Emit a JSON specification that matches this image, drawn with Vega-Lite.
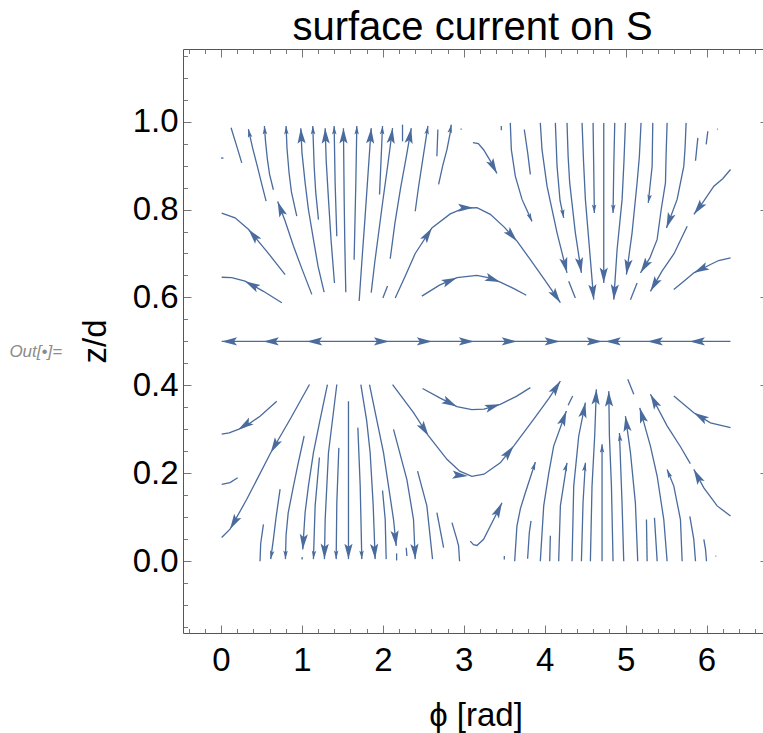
{
"$schema": "https://vega.github.io/schema/vega-lite/v6.json",
"width": 585, "height": 584,
"autosize": {"type": "none"},
"padding": {"left": 183, "top": 49, "right": 0, "bottom": 100},
"background": "white",
"title": {"text": "surface current on S", "font": "Liberation Sans", "fontSize": 40, "fontWeight": "normal", "color": "black", "offset": 1, "anchor": "middle", "dx": -3},
"config": {
  "view": {"stroke": null},
  "axis": {"grid": false, "domainColor": "#555555", "tickColor": "#777777", "domainWidth": 1, "tickWidth": 1,
    "labelFont": "Liberation Sans", "labelFontSize": 33, "labelColor": "black", "labelFlush": false, "labelOverlap": false,
    "titleFont": "Liberation Sans", "titleFontSize": 33, "titleFontWeight": "normal", "titleColor": "black"}
},
"resolve": {"axis": {"x": "independent", "y": "independent"}},
"datasets": {
"lines": [
{"id":1,"i":0,"phi":0,"z":0.917},{"id":1,"i":1,"phi":0.03,"z":0.917},
{"id":2,"i":0,"phi":0.256,"z":0.906},{"id":2,"i":1,"phi":0.194,"z":0.944},{"id":2,"i":2,"phi":0.124,"z":0.986},
{"id":3,"i":0,"phi":0.557,"z":0.819},{"id":3,"i":1,"phi":0.5,"z":0.86},{"id":3,"i":2,"phi":0.449,"z":0.898},{"id":3,"i":3,"phi":0.39,"z":0.94},{"id":3,"i":4,"phi":0.338,"z":0.983},
{"id":4,"i":0,"phi":1.122,"z":0.607},{"id":4,"i":1,"phi":1.0,"z":0.665},{"id":4,"i":2,"phi":0.895,"z":0.717},{"id":4,"i":3,"phi":0.79,"z":0.775},{"id":4,"i":4,"phi":0.7,"z":0.818},
{"id":5,"i":0,"phi":0.647,"z":0.845},{"id":5,"i":1,"phi":0.6,"z":0.88},{"id":5,"i":2,"phi":0.573,"z":0.914},{"id":5,"i":3,"phi":0.55,"z":0.955},{"id":5,"i":4,"phi":0.536,"z":0.99},
{"id":6,"i":0,"phi":0.936,"z":0.785},{"id":6,"i":1,"phi":0.87,"z":0.84},{"id":6,"i":2,"phi":0.841,"z":0.883},{"id":6,"i":3,"phi":0.815,"z":0.94},{"id":6,"i":4,"phi":0.804,"z":0.99},
{"id":7,"i":0,"phi":1.274,"z":0.612},{"id":7,"i":1,"phi":1.2,"z":0.67},{"id":7,"i":2,"phi":1.142,"z":0.732},{"id":7,"i":3,"phi":1.08,"z":0.8},{"id":7,"i":4,"phi":1.039,"z":0.861},{"id":7,"i":5,"phi":1.0,"z":0.93},{"id":7,"i":6,"phi":0.986,"z":0.985},
{"id":8,"i":0,"phi":1.204,"z":0.777},{"id":8,"i":1,"phi":1.17,"z":0.84},{"id":8,"i":2,"phi":1.151,"z":0.898},{"id":8,"i":3,"phi":1.134,"z":0.99},
{"id":9,"i":0,"phi":1.402,"z":0.633},{"id":9,"i":1,"phi":1.36,"z":0.73},{"id":9,"i":2,"phi":1.328,"z":0.823},{"id":9,"i":3,"phi":1.3,"z":0.91},{"id":9,"i":4,"phi":1.287,"z":0.985},
{"id":10,"i":0,"phi":1.431,"z":0.739},{"id":10,"i":1,"phi":1.41,"z":0.861},{"id":10,"i":2,"phi":1.398,"z":0.99},
{"id":11,"i":0,"phi":1.542,"z":0.612},{"id":11,"i":1,"phi":1.53,"z":0.72},{"id":11,"i":2,"phi":1.522,"z":0.823},{"id":11,"i":3,"phi":1.513,"z":0.985},
{"id":12,"i":0,"phi":1.645,"z":0.686},{"id":12,"i":1,"phi":1.666,"z":0.861},{"id":12,"i":2,"phi":1.678,"z":0.99},
{"id":13,"i":0,"phi":1.707,"z":0.592},{"id":13,"i":1,"phi":1.74,"z":0.68},{"id":13,"i":2,"phi":1.781,"z":0.785},{"id":13,"i":3,"phi":1.82,"z":0.89},{"id":13,"i":4,"phi":1.856,"z":0.985},
{"id":14,"i":0,"phi":1.959,"z":0.834},{"id":14,"i":1,"phi":1.996,"z":0.99},
{"id":15,"i":0,"phi":1.856,"z":0.611},{"id":15,"i":1,"phi":1.9,"z":0.68},{"id":15,"i":2,"phi":1.95,"z":0.75},{"id":15,"i":3,"phi":2.0,"z":0.82},{"id":15,"i":4,"phi":2.06,"z":0.9},{"id":15,"i":5,"phi":2.12,"z":0.985},
{"id":16,"i":0,"phi":2.0,"z":0.599},{"id":16,"i":1,"phi":2.058,"z":0.626},
{"id":17,"i":0,"phi":2.243,"z":0.955},{"id":17,"i":1,"phi":2.243,"z":0.993},
{"id":18,"i":0,"phi":2.091,"z":0.688},{"id":18,"i":1,"phi":2.15,"z":0.77},{"id":18,"i":2,"phi":2.22,"z":0.85},{"id":18,"i":3,"phi":2.29,"z":0.92},{"id":18,"i":4,"phi":2.351,"z":0.985},
{"id":19,"i":0,"phi":2.4,"z":0.796},{"id":19,"i":1,"phi":2.44,"z":0.85},{"id":19,"i":2,"phi":2.48,"z":0.898},{"id":19,"i":3,"phi":2.557,"z":0.99},
{"id":20,"i":0,"phi":2.668,"z":0.921},{"id":20,"i":1,"phi":2.68,"z":0.982},
{"id":21,"i":0,"phi":2.689,"z":0.857},{"id":21,"i":1,"phi":2.74,"z":0.9},{"id":21,"i":2,"phi":2.792,"z":0.936},{"id":21,"i":3,"phi":2.833,"z":0.975},{"id":21,"i":4,"phi":2.845,"z":0.993},
{"id":22,"i":0,"phi":0.792,"z":0.652},{"id":22,"i":1,"phi":0.565,"z":0.705},{"id":22,"i":2,"phi":0.338,"z":0.755},{"id":22,"i":3,"phi":0.173,"z":0.781},{"id":22,"i":4,"phi":0.008,"z":0.792},
{"id":23,"i":0,"phi":0.751,"z":0.588},{"id":23,"i":1,"phi":0.524,"z":0.614},{"id":23,"i":2,"phi":0.297,"z":0.637},{"id":23,"i":3,"phi":0.132,"z":0.645},{"id":23,"i":4,"phi":0.008,"z":0.646},
{"id":24,"i":0,"phi":2.153,"z":0.599},{"id":24,"i":1,"phi":2.28,"z":0.65},{"id":24,"i":2,"phi":2.4,"z":0.7},{"id":24,"i":3,"phi":2.606,"z":0.758},{"id":24,"i":4,"phi":2.833,"z":0.79},{"id":24,"i":5,"phi":3.0,"z":0.803},{"id":24,"i":6,"phi":3.163,"z":0.804},{"id":24,"i":7,"phi":3.328,"z":0.789},{"id":24,"i":8,"phi":3.5,"z":0.76},{"id":24,"i":9,"phi":3.658,"z":0.728},{"id":24,"i":10,"phi":3.823,"z":0.686},{"id":24,"i":11,"phi":4.0,"z":0.64},{"id":24,"i":12,"phi":4.194,"z":0.588},
{"id":25,"i":0,"phi":2.482,"z":0.603},{"id":25,"i":1,"phi":2.7,"z":0.628},{"id":25,"i":2,"phi":2.915,"z":0.645},{"id":25,"i":3,"phi":3.163,"z":0.65},{"id":25,"i":4,"phi":3.3,"z":0.645},{"id":25,"i":5,"phi":3.451,"z":0.635},{"id":25,"i":6,"phi":3.62,"z":0.62},{"id":25,"i":7,"phi":3.773,"z":0.605},
{"id":26,"i":0,"phi":2.96,"z":0.983},{"id":26,"i":1,"phi":2.975,"z":0.983},
{"id":27,"i":0,"phi":3.464,"z":0.99},{"id":27,"i":1,"phi":3.464,"z":0.98},
{"id":28,"i":0,"phi":3.113,"z":0.952},{"id":28,"i":1,"phi":3.18,"z":0.95},{"id":28,"i":2,"phi":3.245,"z":0.936},{"id":28,"i":3,"phi":3.33,"z":0.91},{"id":28,"i":4,"phi":3.41,"z":0.882},
{"id":29,"i":0,"phi":3.575,"z":0.997},{"id":29,"i":1,"phi":3.588,"z":0.936},{"id":29,"i":2,"phi":3.637,"z":0.876},{"id":29,"i":3,"phi":3.72,"z":0.823},{"id":29,"i":4,"phi":3.843,"z":0.773},
{"id":30,"i":0,"phi":3.748,"z":0.982},{"id":30,"i":1,"phi":3.79,"z":0.929},{"id":30,"i":2,"phi":3.823,"z":0.88},
{"id":31,"i":0,"phi":3.946,"z":0.997},{"id":31,"i":1,"phi":3.967,"z":0.936},{"id":31,"i":2,"phi":4.029,"z":0.853},{"id":31,"i":3,"phi":4.153,"z":0.747},{"id":31,"i":4,"phi":4.276,"z":0.656},
{"id":32,"i":0,"phi":4.297,"z":0.637},{"id":32,"i":1,"phi":4.379,"z":0.599},
{"id":33,"i":0,"phi":4.132,"z":0.997},{"id":33,"i":1,"phi":4.153,"z":0.898},{"id":33,"i":2,"phi":4.19,"z":0.82},{"id":33,"i":3,"phi":4.235,"z":0.781},
{"id":34,"i":0,"phi":4.276,"z":0.997},{"id":34,"i":1,"phi":4.29,"z":0.92},{"id":34,"i":2,"phi":4.309,"z":0.861},{"id":34,"i":3,"phi":4.379,"z":0.747},{"id":34,"i":4,"phi":4.454,"z":0.656},
{"id":35,"i":0,"phi":4.462,"z":0.997},{"id":35,"i":1,"phi":4.48,"z":0.91},{"id":35,"i":2,"phi":4.503,"z":0.823},{"id":35,"i":3,"phi":4.565,"z":0.686},{"id":35,"i":4,"phi":4.606,"z":0.595},
{"id":36,"i":0,"phi":4.598,"z":0.997},{"id":36,"i":1,"phi":4.606,"z":0.898},{"id":36,"i":2,"phi":4.614,"z":0.792},
{"id":37,"i":0,"phi":4.73,"z":0.997},{"id":37,"i":1,"phi":4.73,"z":0.633},
{"id":38,"i":0,"phi":4.866,"z":0.997},{"id":38,"i":1,"phi":4.854,"z":0.898},{"id":38,"i":2,"phi":4.845,"z":0.792},
{"id":39,"i":0,"phi":4.998,"z":0.997},{"id":39,"i":1,"phi":4.98,"z":0.91},{"id":39,"i":2,"phi":4.957,"z":0.823},{"id":39,"i":3,"phi":4.895,"z":0.709},{"id":39,"i":4,"phi":4.854,"z":0.595},
{"id":40,"i":0,"phi":5.191,"z":0.997},{"id":40,"i":1,"phi":5.17,"z":0.92},{"id":40,"i":2,"phi":5.142,"z":0.861},{"id":40,"i":3,"phi":5.08,"z":0.747},{"id":40,"i":4,"phi":5.01,"z":0.652},
{"id":41,"i":0,"phi":5.336,"z":0.997},{"id":41,"i":1,"phi":5.328,"z":0.898},{"id":41,"i":2,"phi":5.3,"z":0.85},{"id":41,"i":3,"phi":5.28,"z":0.815},
{"id":42,"i":0,"phi":5.513,"z":0.997},{"id":42,"i":1,"phi":5.5,"z":0.92},{"id":42,"i":2,"phi":5.493,"z":0.861},{"id":42,"i":3,"phi":5.44,"z":0.8},{"id":42,"i":4,"phi":5.39,"z":0.732},{"id":42,"i":5,"phi":5.3,"z":0.69},{"id":42,"i":6,"phi":5.184,"z":0.656},
{"id":43,"i":0,"phi":5.142,"z":0.633},{"id":43,"i":1,"phi":5.06,"z":0.595},
{"id":44,"i":0,"phi":5.748,"z":0.997},{"id":44,"i":1,"phi":5.735,"z":0.94},{"id":44,"i":2,"phi":5.719,"z":0.898},{"id":44,"i":3,"phi":5.637,"z":0.823},{"id":44,"i":4,"phi":5.505,"z":0.758},
{"id":45,"i":0,"phi":5.893,"z":0.963},{"id":45,"i":1,"phi":5.864,"z":0.911},
{"id":46,"i":0,"phi":6.016,"z":0.978},{"id":46,"i":1,"phi":5.996,"z":0.948},
{"id":47,"i":0,"phi":6.132,"z":0.983},{"id":47,"i":1,"phi":6.142,"z":0.983},
{"id":48,"i":0,"phi":6.297,"z":0.891},{"id":48,"i":1,"phi":6.2,"z":0.87},{"id":48,"i":2,"phi":6.091,"z":0.853},{"id":48,"i":3,"phi":5.97,"z":0.82},{"id":48,"i":4,"phi":5.844,"z":0.789},
{"id":49,"i":0,"phi":5.761,"z":0.762},{"id":49,"i":1,"phi":5.6,"z":0.7},{"id":49,"i":2,"phi":5.45,"z":0.66},{"id":49,"i":3,"phi":5.307,"z":0.614},
{"id":50,"i":0,"phi":6.297,"z":0.69},{"id":50,"i":1,"phi":6.15,"z":0.684},{"id":50,"i":2,"phi":6.049,"z":0.675},{"id":50,"i":3,"phi":5.844,"z":0.656},{"id":50,"i":4,"phi":5.72,"z":0.637},{"id":50,"i":5,"phi":5.596,"z":0.618},
{"id":51,"i":0,"phi":0.689,"z":0.364},{"id":51,"i":1,"phi":0.482,"z":0.33},{"id":51,"i":2,"phi":0.3,"z":0.307},{"id":51,"i":3,"phi":0.214,"z":0.3},{"id":51,"i":4,"phi":0.1,"z":0.292},{"id":51,"i":5,"phi":0.008,"z":0.289},
{"id":52,"i":0,"phi":0.206,"z":0.19},{"id":52,"i":1,"phi":0.111,"z":0.179},{"id":52,"i":2,"phi":0.008,"z":0.175},
{"id":53,"i":0,"phi":1.093,"z":0.402},{"id":53,"i":1,"phi":0.854,"z":0.323},{"id":53,"i":2,"phi":0.614,"z":0.247},{"id":53,"i":3,"phi":0.318,"z":0.141},{"id":53,"i":4,"phi":0.111,"z":0.073},{"id":53,"i":5,"phi":0.008,"z":0.054},
{"id":54,"i":0,"phi":0.524,"z":0.084},{"id":54,"i":1,"phi":0.49,"z":0.04},{"id":54,"i":2,"phi":0.482,"z":0.0},
{"id":55,"i":0,"phi":0.73,"z":0.164},{"id":55,"i":1,"phi":0.68,"z":0.1},{"id":55,"i":2,"phi":0.647,"z":0.05},{"id":55,"i":3,"phi":0.614,"z":0.005},
{"id":56,"i":0,"phi":1.027,"z":0.285},{"id":56,"i":1,"phi":0.95,"z":0.22},{"id":56,"i":2,"phi":0.895,"z":0.171},{"id":56,"i":3,"phi":0.83,"z":0.11},{"id":56,"i":4,"phi":0.804,"z":0.06},{"id":56,"i":5,"phi":0.796,"z":0.005},
{"id":57,"i":0,"phi":1.315,"z":0.402},{"id":57,"i":1,"phi":1.225,"z":0.323},{"id":57,"i":2,"phi":1.142,"z":0.247},{"id":57,"i":3,"phi":1.08,"z":0.171},{"id":57,"i":4,"phi":1.039,"z":0.111},{"id":57,"i":5,"phi":1.01,"z":0.027},
{"id":58,"i":0,"phi":1.003,"z":0.01},{"id":58,"i":1,"phi":1.002,"z":0.004},
{"id":59,"i":0,"phi":1.216,"z":0.236},{"id":59,"i":1,"phi":1.163,"z":0.126},{"id":59,"i":2,"phi":1.142,"z":0.005},
{"id":60,"i":0,"phi":1.431,"z":0.402},{"id":60,"i":1,"phi":1.328,"z":0.247},{"id":60,"i":2,"phi":1.287,"z":0.095},{"id":60,"i":3,"phi":1.278,"z":0.005},
{"id":61,"i":0,"phi":1.456,"z":0.258},{"id":61,"i":1,"phi":1.431,"z":0.133},{"id":61,"i":2,"phi":1.423,"z":0.005},
{"id":62,"i":0,"phi":1.575,"z":0.364},{"id":62,"i":1,"phi":1.575,"z":0.005},
{"id":63,"i":0,"phi":1.691,"z":0.304},{"id":63,"i":1,"phi":1.72,"z":0.171},{"id":63,"i":2,"phi":1.74,"z":0.005},
{"id":64,"i":0,"phi":1.728,"z":0.402},{"id":64,"i":1,"phi":1.8,"z":0.32},{"id":64,"i":2,"phi":1.843,"z":0.247},{"id":64,"i":3,"phi":1.88,"z":0.13},{"id":64,"i":4,"phi":1.905,"z":0.005},
{"id":65,"i":0,"phi":1.835,"z":0.402},{"id":65,"i":1,"phi":2.008,"z":0.247},{"id":65,"i":2,"phi":2.132,"z":0.095},{"id":65,"i":3,"phi":2.165,"z":0.035},
{"id":66,"i":0,"phi":2.17,"z":0.018},{"id":66,"i":1,"phi":2.17,"z":0.002},
{"id":67,"i":0,"phi":1.996,"z":0.161},{"id":67,"i":1,"phi":2.029,"z":0.095},{"id":67,"i":2,"phi":2.041,"z":0.005},
{"id":68,"i":0,"phi":2.132,"z":0.3},{"id":68,"i":1,"phi":2.297,"z":0.186},{"id":68,"i":2,"phi":2.379,"z":0.095},{"id":68,"i":3,"phi":2.4,"z":0.005},
{"id":69,"i":0,"phi":2.289,"z":0.031},{"id":69,"i":1,"phi":2.297,"z":0.012},
{"id":70,"i":0,"phi":2.429,"z":0.205},{"id":70,"i":1,"phi":2.544,"z":0.126},{"id":70,"i":2,"phi":2.614,"z":0.005},
{"id":71,"i":0,"phi":2.668,"z":0.111},{"id":71,"i":1,"phi":2.751,"z":0.031},
{"id":72,"i":0,"phi":2.854,"z":0.088},{"id":72,"i":1,"phi":2.915,"z":0.05},{"id":72,"i":2,"phi":2.936,"z":0.035},{"id":72,"i":3,"phi":2.948,"z":0.0},
{"id":73,"i":0,"phi":2.12,"z":0.402},{"id":73,"i":1,"phi":2.379,"z":0.338},{"id":73,"i":2,"phi":2.565,"z":0.285},{"id":73,"i":3,"phi":2.792,"z":0.232},{"id":73,"i":4,"phi":2.95,"z":0.205},{"id":73,"i":5,"phi":3.1,"z":0.193},{"id":73,"i":6,"phi":3.25,"z":0.198},{"id":73,"i":7,"phi":3.451,"z":0.224},{"id":73,"i":8,"phi":3.616,"z":0.262},{"id":73,"i":9,"phi":3.863,"z":0.323},{"id":73,"i":10,"phi":4.05,"z":0.37},{"id":73,"i":11,"phi":4.194,"z":0.41},
{"id":74,"i":0,"phi":2.491,"z":0.393},{"id":74,"i":1,"phi":2.709,"z":0.371},{"id":74,"i":2,"phi":2.915,"z":0.352},{"id":74,"i":3,"phi":3.1,"z":0.345},{"id":74,"i":4,"phi":3.25,"z":0.346},{"id":74,"i":5,"phi":3.451,"z":0.357},{"id":74,"i":6,"phi":3.65,"z":0.375},{"id":74,"i":7,"phi":3.823,"z":0.395},
{"id":75,"i":0,"phi":3.08,"z":0.046},{"id":75,"i":1,"phi":3.12,"z":0.038},{"id":75,"i":2,"phi":3.163,"z":0.036},{"id":75,"i":3,"phi":3.245,"z":0.05},{"id":75,"i":4,"phi":3.369,"z":0.095},{"id":75,"i":5,"phi":3.472,"z":0.133},
{"id":76,"i":0,"phi":3.501,"z":0.012},{"id":76,"i":1,"phi":3.501,"z":0.004},
{"id":77,"i":0,"phi":3.629,"z":0.0},{"id":77,"i":1,"phi":3.657,"z":0.08},{"id":77,"i":2,"phi":3.7,"z":0.12},{"id":77,"i":3,"phi":3.761,"z":0.156},{"id":77,"i":4,"phi":3.885,"z":0.226},
{"id":78,"i":0,"phi":3.789,"z":0.006},{"id":78,"i":1,"phi":3.81,"z":0.065},{"id":78,"i":2,"phi":3.831,"z":0.092},
{"id":79,"i":0,"phi":3.946,"z":0.0},{"id":79,"i":1,"phi":3.988,"z":0.126},{"id":79,"i":2,"phi":4.05,"z":0.2},{"id":79,"i":3,"phi":4.111,"z":0.262},{"id":79,"i":4,"phi":4.268,"z":0.342},
{"id":80,"i":0,"phi":4.29,"z":0.355},{"id":80,"i":1,"phi":4.346,"z":0.376},
{"id":81,"i":0,"phi":4.062,"z":0.0},{"id":81,"i":1,"phi":4.07,"z":0.058},
{"id":82,"i":0,"phi":4.173,"z":0.0},{"id":82,"i":1,"phi":4.194,"z":0.126},{"id":82,"i":2,"phi":4.276,"z":0.224},
{"id":83,"i":0,"phi":4.338,"z":0.0},{"id":83,"i":1,"phi":4.359,"z":0.171},{"id":83,"i":2,"phi":4.421,"z":0.285},{"id":83,"i":3,"phi":4.503,"z":0.361},
{"id":84,"i":0,"phi":4.454,"z":0.0},{"id":84,"i":1,"phi":4.474,"z":0.133},{"id":84,"i":2,"phi":4.503,"z":0.224},
{"id":85,"i":0,"phi":4.565,"z":0.0},{"id":85,"i":1,"phi":4.585,"z":0.171},{"id":85,"i":2,"phi":4.618,"z":0.285},{"id":85,"i":3,"phi":4.639,"z":0.391},
{"id":86,"i":0,"phi":4.709,"z":0.0},{"id":86,"i":1,"phi":4.709,"z":0.266},
{"id":87,"i":0,"phi":4.845,"z":0.0},{"id":87,"i":1,"phi":4.825,"z":0.171},{"id":87,"i":2,"phi":4.8,"z":0.285},{"id":87,"i":3,"phi":4.792,"z":0.387},
{"id":88,"i":0,"phi":4.977,"z":0.0},{"id":88,"i":1,"phi":4.956,"z":0.133},{"id":88,"i":2,"phi":4.924,"z":0.292},
{"id":89,"i":0,"phi":5.15,"z":0.0},{"id":89,"i":1,"phi":5.121,"z":0.133},{"id":89,"i":2,"phi":5.06,"z":0.247},{"id":89,"i":3,"phi":4.998,"z":0.33},
{"id":90,"i":0,"phi":5.266,"z":0.0},{"id":90,"i":1,"phi":5.258,"z":0.095},
{"id":91,"i":0,"phi":5.39,"z":0.0},{"id":91,"i":1,"phi":5.357,"z":0.099},
{"id":92,"i":0,"phi":5.513,"z":0.0},{"id":92,"i":1,"phi":5.472,"z":0.095},{"id":92,"i":2,"phi":5.39,"z":0.194},{"id":92,"i":3,"phi":5.307,"z":0.262},{"id":92,"i":4,"phi":5.175,"z":0.349},
{"id":93,"i":0,"phi":5.101,"z":0.38},{"id":93,"i":1,"phi":5.027,"z":0.414},
{"id":94,"i":0,"phi":5.699,"z":0.0},{"id":94,"i":1,"phi":5.678,"z":0.095},{"id":94,"i":2,"phi":5.596,"z":0.171},{"id":94,"i":3,"phi":5.513,"z":0.209},
{"id":95,"i":0,"phi":5.864,"z":0.0},{"id":95,"i":1,"phi":5.843,"z":0.05},{"id":95,"i":2,"phi":5.794,"z":0.102},
{"id":96,"i":0,"phi":6.0,"z":0.0},{"id":96,"i":1,"phi":5.988,"z":0.027},{"id":96,"i":2,"phi":5.967,"z":0.05},
{"id":97,"i":0,"phi":6.111,"z":0.012},{"id":97,"i":1,"phi":6.121,"z":0.012},
{"id":98,"i":0,"phi":6.297,"z":0.103},{"id":98,"i":1,"phi":6.132,"z":0.126},{"id":98,"i":2,"phi":5.967,"z":0.167},{"id":98,"i":3,"phi":5.843,"z":0.209},
{"id":99,"i":0,"phi":5.8,"z":0.222},{"id":99,"i":1,"phi":5.68,"z":0.26},{"id":99,"i":2,"phi":5.513,"z":0.308},{"id":99,"i":3,"phi":5.307,"z":0.38},
{"id":100,"i":0,"phi":6.297,"z":0.304},{"id":100,"i":1,"phi":6.049,"z":0.315},{"id":100,"i":2,"phi":5.843,"z":0.338},{"id":100,"i":3,"phi":5.596,"z":0.376}
],
"mid": [{"id":0,"i":0,"phi":0.008,"z":0.5},{"id":0,"i":1,"phi":6.296,"z":0.5}],
"arrows": [
{"phi":0.338,"z":0.983,"dir":-12,"big":0},{"phi":0.7,"z":0.818,"dir":-21,"big":1},{"phi":0.536,"z":0.99,"dir":-4,"big":0},{"phi":0.804,"z":0.99,"dir":-2,"big":0},
{"phi":0.986,"z":0.985,"dir":-3,"big":1},{"phi":1.134,"z":0.99,"dir":-2,"big":0},{"phi":1.287,"z":0.985,"dir":-2,"big":1},{"phi":1.398,"z":0.99,"dir":-1,"big":0},
{"phi":1.513,"z":0.985,"dir":0,"big":1},{"phi":1.678,"z":0.99,"dir":1,"big":0},{"phi":1.856,"z":0.985,"dir":4,"big":1},{"phi":1.996,"z":0.99,"dir":3,"big":0},
{"phi":2.12,"z":0.985,"dir":7,"big":1},{"phi":2.351,"z":0.985,"dir":10,"big":1},{"phi":2.557,"z":0.99,"dir":9,"big":0},{"phi":2.845,"z":0.993,"dir":10,"big":0},
{"phi":0.338,"z":0.755,"dir":-40,"big":1},{"phi":0.297,"z":0.637,"dir":-61,"big":1},{"phi":2.606,"z":0.758,"dir":33,"big":1},{"phi":3.12,"z":0.804,"dir":90,"big":1},
{"phi":3.658,"z":0.728,"dir":138,"big":1},{"phi":4.194,"z":0.588,"dir":146,"big":1},{"phi":2.915,"z":0.645,"dir":67,"big":1},{"phi":3.451,"z":0.635,"dir":110,"big":1},
{"phi":3.41,"z":0.882,"dir":152,"big":1},{"phi":3.843,"z":0.773,"dir":156,"big":0},{"phi":4.276,"z":0.656,"dir":166,"big":1},{"phi":4.235,"z":0.781,"dir":170,"big":0},
{"phi":4.454,"z":0.656,"dir":171,"big":1},{"phi":4.606,"z":0.595,"dir":175,"big":1},{"phi":4.614,"z":0.792,"dir":178,"big":0},{"phi":4.73,"z":0.633,"dir":180,"big":1},
{"phi":4.845,"z":0.792,"dir":182,"big":0},{"phi":4.854,"z":0.595,"dir":184,"big":1},{"phi":5.01,"z":0.652,"dir":188,"big":1},{"phi":5.28,"z":0.815,"dir":190,"big":0},
{"phi":5.184,"z":0.656,"dir":212,"big":1},{"phi":5.505,"z":0.758,"dir":200,"big":1},{"phi":5.844,"z":0.789,"dir":217,"big":1},{"phi":5.307,"z":0.614,"dir":210,"big":1},
{"phi":5.844,"z":0.656,"dir":243,"big":1},
{"phi":0.008,"z":0.5,"dir":270,"big":1},{"phi":0.524,"z":0.5,"dir":270,"big":1},{"phi":1.06,"z":0.5,"dir":270,"big":1},
{"phi":4.75,"z":0.5,"dir":270,"big":1},{"phi":5.27,"z":0.5,"dir":270,"big":1},{"phi":5.79,"z":0.5,"dir":270,"big":1},
{"phi":2.08,"z":0.5,"dir":90,"big":1},{"phi":2.61,"z":0.5,"dir":90,"big":1},{"phi":3.13,"z":0.5,"dir":90,"big":1},
{"phi":3.66,"z":0.5,"dir":90,"big":1},{"phi":4.19,"z":0.5,"dir":90,"big":1},{"phi":4.71,"z":0.5,"dir":90,"big":1},
{"phi":0.214,"z":0.3,"dir":237,"big":1},{"phi":0.614,"z":0.247,"dir":210,"big":1},{"phi":0.111,"z":0.073,"dir":210,"big":1},{"phi":0.614,"z":0.005,"dir":190,"big":0},
{"phi":0.796,"z":0.005,"dir":181,"big":0},{"phi":1.01,"z":0.027,"dir":184,"big":1},{"phi":1.142,"z":0.005,"dir":184,"big":0},{"phi":1.278,"z":0.005,"dir":181,"big":1},
{"phi":1.423,"z":0.005,"dir":180,"big":0},{"phi":1.575,"z":0.005,"dir":180,"big":1},{"phi":1.74,"z":0.005,"dir":178,"big":0},{"phi":1.905,"z":0.005,"dir":176,"big":1},
{"phi":2.165,"z":0.035,"dir":174,"big":1},{"phi":2.4,"z":0.005,"dir":177,"big":1},{"phi":2.565,"z":0.285,"dir":147,"big":1},{"phi":3.05,"z":0.194,"dir":95,"big":1},
{"phi":3.616,"z":0.262,"dir":38,"big":1},{"phi":4.194,"z":0.41,"dir":33,"big":1},{"phi":2.915,"z":0.352,"dir":117,"big":1},{"phi":3.451,"z":0.357,"dir":73,"big":1},
{"phi":3.472,"z":0.133,"dir":26,"big":1},{"phi":3.885,"z":0.226,"dir":18,"big":0},{"phi":4.268,"z":0.342,"dir":20,"big":1},{"phi":4.276,"z":0.224,"dir":15,"big":0},
{"phi":4.503,"z":0.361,"dir":11,"big":1},{"phi":4.503,"z":0.224,"dir":8,"big":0},{"phi":4.639,"z":0.391,"dir":3,"big":1},{"phi":4.709,"z":0.266,"dir":0,"big":0},
{"phi":4.792,"z":0.387,"dir":-1,"big":1},{"phi":4.924,"z":0.292,"dir":-5,"big":0},{"phi":4.998,"z":0.33,"dir":-8,"big":1},{"phi":5.175,"z":0.349,"dir":-16,"big":1},
{"phi":5.513,"z":0.209,"dir":-22,"big":0},{"phi":5.843,"z":0.209,"dir":-28,"big":1},{"phi":5.307,"z":0.38,"dir":-28,"big":1},{"phi":5.843,"z":0.338,"dir":-59,"big":1}
]
},
"layer": [
{
 "data": {"name": "lines"},
 "mark": {"type": "line", "color": "#4a6b9d", "strokeWidth": 1.3},
 "encoding": {
  "x": {"field": "phi", "type": "quantitative", "scale": {"domain": [-0.47, 6.76], "nice": false, "zero": false},
        "axis": {"orient": "bottom", "values": [0,1,2,3,4,5,6], "tickSize": -8, "labelPadding": 19, "title": "ϕ [rad]", "titlePadding": 22}},
  "y": {"field": "z", "type": "quantitative", "scale": {"domain": [-0.163, 1.165], "nice": false, "zero": false},
        "axis": {"orient": "left", "values": [0,0.2,0.4,0.6,0.8,1], "format": ".1f", "tickSize": -8, "labelPadding": 13, "title": "z/d", "titlePadding": 20}},
  "detail": {"field": "id", "type": "nominal"},
  "order": {"field": "i", "type": "quantitative"}
 }
},
{
 "data": {"name": "arrows"},
 "mark": {"type": "point", "shape": "M0,0L0.45,1.7L0,1.35L-0.45,1.7Z", "filled": true, "color": "#4a6b9d", "opacity": 1, "strokeWidth": 0},
 "encoding": {
  "x": {"field": "phi", "type": "quantitative", "scale": {"domain": [-0.47, 6.76], "nice": false, "zero": false},
        "axis": {"orient": "bottom", "values": [-0.4,-0.2,0.2,0.4,0.6,0.8,1.2,1.4,1.6,1.8,2.2,2.4,2.6,2.8,3.2,3.4,3.6,3.8,4.2,4.4,4.6,4.8,5.2,5.4,5.6,5.8,6.2,6.4,6.6], "tickSize": -4.5, "labels": false, "title": null, "domain": false}},
  "y": {"field": "z", "type": "quantitative", "scale": {"domain": [-0.163, 1.165], "nice": false, "zero": false},
        "axis": {"orient": "left", "values": [-0.15,-0.1,-0.05,0.05,0.1,0.15,0.25,0.3,0.35,0.45,0.5,0.55,0.65,0.7,0.75,0.85,0.9,0.95,1.05,1.1,1.15], "tickSize": -4.5, "labels": false, "title": null, "domain": false}},
  "angle": {"field": "dir", "type": "quantitative", "scale": null},
  "size": {"field": "big", "type": "quantitative", "scale": {"domain": [0, 1], "range": [100, 330]}, "legend": null}
 }
},
{
 "data": {"values": [{"label": "Out[•]=", "phi": -2.29, "z": 0.475}]},
 "mark": {"type": "text", "font": "Liberation Sans", "fontStyle": "italic", "fontSize": 17, "color": "#8c8c8c", "align": "center", "baseline": "middle"},
 "encoding": {
  "x": {"field": "phi", "type": "quantitative", "scale": {"domain": [-0.47, 6.76], "nice": false, "zero": false},
        "axis": {"orient": "top", "values": [0,1,2,3,4,5,6], "tickSize": -8, "labels": false, "title": null}},
  "y": {"field": "z", "type": "quantitative", "scale": {"domain": [-0.163, 1.165], "nice": false, "zero": false},
        "axis": {"orient": "right", "values": [0,0.2,0.4,0.6,0.8,1], "tickSize": -8, "labels": false, "title": null}},
  "text": {"field": "label"}
 }
},
{
 "data": {"name": "mid"},
 "mark": {"type": "line", "color": "#4a6b9d", "strokeWidth": 1.3},
 "encoding": {
  "x": {"field": "phi", "type": "quantitative", "scale": {"domain": [-0.47, 6.76], "nice": false, "zero": false},
        "axis": {"orient": "top", "values": [-0.4,-0.2,0.2,0.4,0.6,0.8,1.2,1.4,1.6,1.8,2.2,2.4,2.6,2.8,3.2,3.4,3.6,3.8,4.2,4.4,4.6,4.8,5.2,5.4,5.6,5.8,6.2,6.4,6.6], "tickSize": -4.5, "labels": false, "title": null, "domain": false}},
  "y": {"field": "z", "type": "quantitative", "scale": {"domain": [-0.163, 1.165], "nice": false, "zero": false},
        "axis": {"orient": "right", "values": [-0.15,-0.1,-0.05,0.05,0.1,0.15,0.25,0.3,0.35,0.45,0.5,0.55,0.65,0.7,0.75,0.85,0.9,0.95,1.05,1.1,1.15], "tickSize": -4.5, "labels": false, "title": null, "domain": false}},
  "detail": {"field": "id", "type": "nominal"},
  "order": {"field": "i", "type": "quantitative"}
 }
}
]
}
